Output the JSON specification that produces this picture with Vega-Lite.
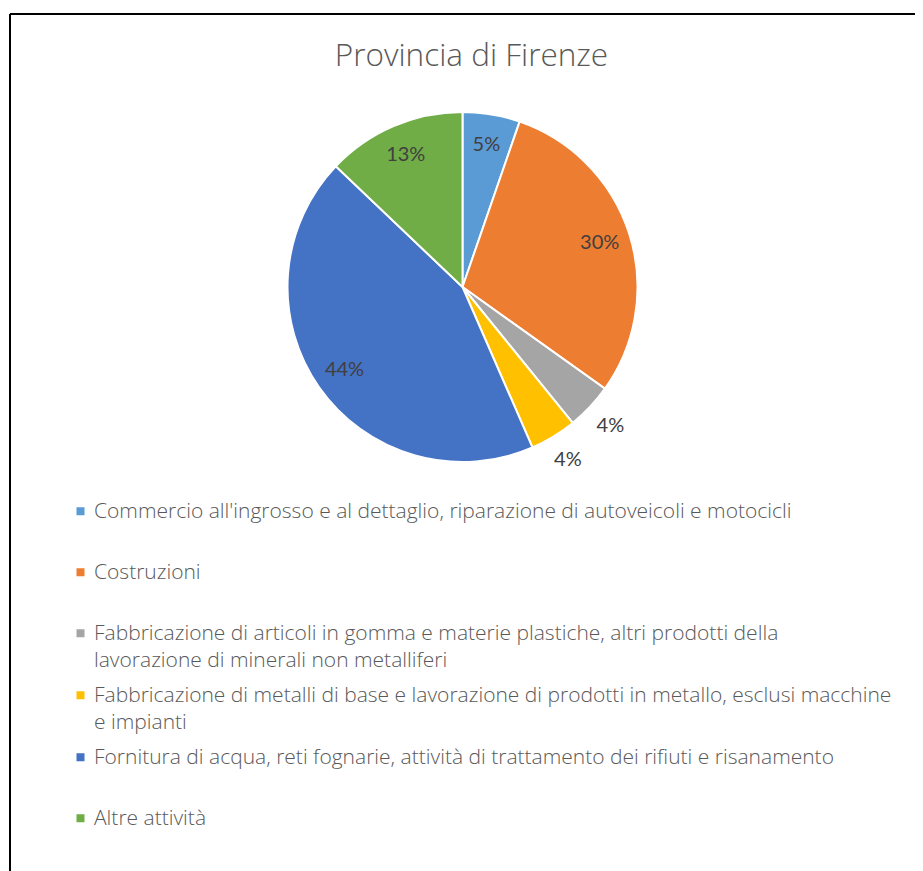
{
  "$schema": "https://vega.github.io/schema/vega-lite/v6.json",
  "padding": {"left": 9, "top": 13, "right": 0, "bottom": 0},
  "background": "white",
  "spacing": 0,
  "bounds": "flush",
  "datasets": {
    "quote": [
      {"attivita": "Commercio all'ingrosso e al dettaglio, riparazione di autoveicoli e motocicli", "quota": 0.053},
      {"attivita": "Costruzioni", "quota": 0.296},
      {"attivita": "Fabbricazione di articoli in gomma e materie plastiche, altri prodotti della lavorazione di minerali non metalliferi", "quota": 0.043},
      {"attivita": "Fabbricazione di metalli di base e lavorazione di prodotti in metallo, esclusi macchine e impianti", "quota": 0.043},
      {"attivita": "Fornitura di acqua, reti fognarie, attività di trattamento dei rifiuti e risanamento", "quota": 0.437},
      {"attivita": "Altre attività", "quota": 0.129}
    ]
  },
  "config": {
    "font": "Open Sans",
    "concat": {"spacing": 0},
    "style": {"guide-label": {"lineHeight": 27}},
    "legend": {
      "orient": "none",
      "legendX": 60,
      "legendY": 473.5,
      "direction": "vertical",
      "padding": 0,
      "rowPadding": 0,
      "clipHeight": 60.3,
      "symbolType": "M-1,-2.6H1V-0.6H-1Z",
      "symbolSize": 64,
      "symbolStrokeWidth": 0,
      "labelFont": "Open Sans",
      "labelFontSize": 21,
      "labelFontWeight": 300,
      "labelColor": "#595959",
      "labelLimit": 900,
      "labelBaseline": "alphabetic",
      "labelOffset": 3
    }
  },
  "vconcat": [
    {
      "width": 905,
      "height": 546,
      "data": {"name": "quote"},
      "view": {"stroke": "#000000", "strokeWidth": 2, "strokeDash": [905, 1451, 546, 0]},
      "title": {
        "text": "Provincia di Firenze",
        "frame": "group",
        "anchor": "middle",
        "orient": "top",
        "offset": -83,
        "dx": 9,
        "baseline": "alphabetic",
        "fontSize": 31.5,
        "font": "Open Sans",
        "fontWeight": 300,
        "color": "#595959"
      },
      "transform": [{"window": [{"op": "row_number", "as": "ordine"}]}],
      "encoding": {
        "theta": {"field": "quota", "type": "quantitative", "stack": true},
        "order": {"field": "ordine", "type": "quantitative"}
      },
      "layer": [
        {
          "mark": {"type": "arc", "outerRadius": 175, "stroke": "white", "strokeWidth": 2},
          "encoding": {
            "color": {
              "field": "attivita",
              "type": "nominal",
              "sort": null,
              "scale": {"range": ["#5B9BD5", "#ED7D31", "#A5A5A5", "#FFC000", "#4472C4", "#70AD47"]},
              "legend": {
                "title": null,
                "labelExpr": "indexof(datum.label, ' lavorazione di minerali') > 0 ? [substring(datum.label, 0, indexof(datum.label, ' lavorazione di minerali')), substring(datum.label, indexof(datum.label, ' lavorazione di minerali') + 1)] : indexof(datum.label, ' e impianti') > 0 ? [substring(datum.label, 0, indexof(datum.label, ' e impianti')), substring(datum.label, indexof(datum.label, ' e impianti') + 1)] : datum.label",
                "encode": {"labels": {"lineHeight": {"value": 27}}}
              }
            }
          }
        },
        {
          "mark": {"type": "text", "radius": 144, "fontSize": 20, "font": "Lato", "align": "center", "baseline": "middle"},
          "encoding": {
            "detail": {"field": "attivita", "type": "nominal"},
            "color": {"value": "#404040"},
            "text": {"condition": {"test": "datum.quota < 0.045", "value": ""}, "field": "quota", "type": "quantitative", "format": ".0%"}
          }
        },
        {
          "mark": {"type": "text", "radius": 203, "fontSize": 20, "font": "Lato", "align": "center", "baseline": "middle"},
          "encoding": {
            "detail": {"field": "attivita", "type": "nominal"},
            "color": {"value": "#404040"},
            "text": {"condition": {"test": "datum.quota >= 0.045", "value": ""}, "field": "quota", "type": "quantitative", "format": ".0%"}
          }
        }
      ]
    },
    {
      "width": 905,
      "height": 320,
      "data": {"values": []},
      "mark": "point",
      "view": {"stroke": "#000000", "strokeWidth": 2, "strokeDash": [0, 2130, 320, 0]}
    }
  ]
}
